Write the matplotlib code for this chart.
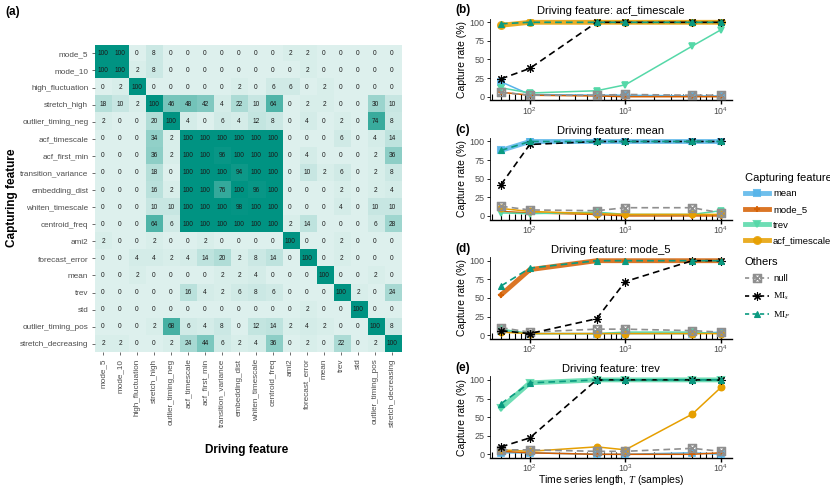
import numpy as np
import matplotlib
matplotlib.use("Agg")
import matplotlib.pyplot as plt
from matplotlib.colors import LinearSegmentedColormap
from matplotlib.lines import Line2D
from matplotlib.ticker import LogLocator, NullFormatter

plt.rcParams['font.family'] = ['Liberation Sans', 'DejaVu Sans']
plt.rcParams['mathtext.fontset'] = 'custom'
plt.rcParams['mathtext.rm'] = 'Liberation Serif'
plt.rcParams['mathtext.it'] = 'Liberation Serif:italic'

# ---- (a) heatmap data: rows = capturing feature, cols = driving feature ----
features = ['mode_5', 'mode_10', 'high_fluctuation', 'stretch_high', 'outlier_timing_neg',
            'acf_timescale', 'acf_first_min', 'transition_variance', 'embedding_dist',
            'whiten_timescale', 'centroid_freq', 'ami2', 'forecast_error', 'mean', 'trev',
            'std', 'outlier_timing_pos', 'stretch_decreasing']

capture_counts = [
    [100, 100, 0, 8, 0, 0, 0, 0, 0, 0, 0, 2, 2, 0, 0, 0, 0, 0],
    [100, 100, 2, 8, 0, 0, 0, 0, 0, 0, 0, 0, 2, 0, 0, 0, 0, 0],
    [0, 2, 100, 0, 0, 0, 0, 0, 2, 0, 6, 6, 0, 2, 0, 0, 0, 0],
    [18, 10, 2, 100, 46, 48, 42, 4, 22, 10, 64, 0, 2, 2, 0, 0, 30, 10],
    [2, 0, 0, 20, 100, 4, 0, 6, 4, 12, 8, 0, 4, 0, 2, 0, 74, 8],
    [0, 0, 0, 34, 2, 100, 100, 100, 100, 100, 100, 0, 0, 0, 6, 0, 4, 14],
    [0, 0, 0, 36, 2, 100, 100, 96, 100, 100, 100, 0, 4, 0, 0, 0, 2, 36],
    [0, 0, 0, 18, 0, 100, 100, 100, 94, 100, 100, 0, 10, 2, 6, 0, 2, 8],
    [0, 0, 0, 16, 2, 100, 100, 76, 100, 96, 100, 0, 0, 0, 2, 0, 2, 4],
    [0, 0, 0, 10, 10, 100, 100, 100, 98, 100, 100, 0, 0, 0, 4, 0, 10, 10],
    [0, 0, 0, 64, 6, 100, 100, 100, 100, 100, 100, 2, 14, 0, 0, 0, 6, 28],
    [2, 0, 0, 2, 0, 0, 2, 0, 0, 0, 0, 100, 0, 0, 2, 0, 0, 0],
    [0, 0, 4, 4, 2, 4, 14, 20, 2, 8, 14, 0, 100, 0, 2, 0, 0, 0],
    [0, 0, 2, 0, 0, 0, 0, 2, 2, 4, 0, 0, 0, 100, 0, 0, 2, 0],
    [0, 0, 0, 0, 0, 16, 4, 2, 6, 8, 6, 0, 0, 0, 100, 2, 0, 24],
    [0, 0, 0, 0, 0, 0, 0, 0, 0, 0, 0, 0, 2, 0, 0, 100, 0, 0],
    [0, 0, 0, 2, 68, 6, 4, 8, 0, 12, 14, 2, 4, 2, 0, 0, 100, 8],
    [2, 2, 0, 0, 2, 24, 44, 6, 2, 4, 36, 0, 2, 0, 22, 0, 2, 100],
]

# ---- (b)-(e) capture rate vs time series length ----
T_len = [50, 100, 500, 1000, 5000, 10000]

# (b) driving feature: acf_timescale
b_mean = [20, 3, 2, 2, 1, 1]
b_mode5 = [6, 2, 1, 0, 0, 0]
b_trev = [12, 5, 8, 16, 68, 90]
b_acf = [96, 100, 100, 100, 100, 100]
b_null = [6, 2, 2, 3, 2, 2]
b_mis = [24, 38, 100, 100, 100, 100]
b_mif = [98, 100, 100, 100, 100, 100]

# (c) driving feature: mean
c_mean = [88, 100, 100, 100, 100, 100]
c_mode5 = [6, 4, 2, 0, 0, 0]
c_trev = [4, 3, 5, 2, 2, 7]
c_acf = [10, 6, 3, 2, 2, 2]
c_null = [13, 8, 7, 11, 11, 4]
c_mis = [42, 96, 100, 100, 100, 100]
c_mif = [88, 100, 100, 100, 100, 100]

# (d) driving feature: mode_5
d_mean = [6, 2, 2, 2, 2, 4]
d_mode5 = [54, 88, 100, 100, 100, 100]
d_trev = [8, 2, 2, 4, 4, 2]
d_acf = [4, 2, 2, 2, 2, 2]
d_null = [10, 4, 8, 8, 6, 4]
d_mis = [6, 2, 22, 72, 100, 100]
d_mif = [66, 90, 100, 100, 100, 100]

# (e) driving feature: trev
e_mean = [2, 2, 0, 0, 2, 0]
e_mode5 = [4, 2, 0, 0, 0, 2]
e_trev = [62, 96, 100, 100, 100, 100]
e_acf = [6, 4, 10, 6, 54, 90]
e_null = [6, 6, 4, 4, 8, 4]
e_mis = [10, 22, 100, 100, 100, 100]
e_mif = [68, 96, 100, 100, 100, 100]

panels = [
    ('(b)', 'acf_timescale', {'mean': b_mean, 'mode_5': b_mode5, 'trev': b_trev,
                              'acf_timescale': b_acf, 'null': b_null, 'MIs': b_mis, 'MIF': b_mif}),
    ('(c)', 'mean', {'mean': c_mean, 'mode_5': c_mode5, 'trev': c_trev,
                     'acf_timescale': c_acf, 'null': c_null, 'MIs': c_mis, 'MIF': c_mif}),
    ('(d)', 'mode_5', {'mean': d_mean, 'mode_5': d_mode5, 'trev': d_trev,
                       'acf_timescale': d_acf, 'null': d_null, 'MIs': d_mis, 'MIF': d_mif}),
    ('(e)', 'trev', {'mean': e_mean, 'mode_5': e_mode5, 'trev': e_trev,
                     'acf_timescale': e_acf, 'null': e_null, 'MIs': e_mis, 'MIF': e_mif}),
]

# styles
cap_style = {
    'mean': dict(color='#56B4E9', marker='s'),
    'mode_5': dict(color='#D55E00', marker='+'),
    'trev': dict(color='#55D8A8', marker='v'),
    'acf_timescale': dict(color='#E69F00', marker='o'),
}
other_style = {
    'null': dict(color='#8f8f8f', marker=r'$\boxtimes$', ms=6),
    'MIs': dict(color='black', marker=(8, 2, 0), ms=6),
    'MIF': dict(color='#0A9A80', marker='^', ms=4.5),
}
other_labels = {'null': 'null', 'MIs': r'$\mathrm{MI}_s$', 'MIF': r'$\mathrm{MI}_F$'}

W, H = 830, 487
fig = plt.figure(figsize=(W / 100, H / 100), dpi=100)
grey = '#4d4d4d'

# ---------------- heatmap ----------------
cmap = LinearSegmentedColormap.from_list('teal', ['#ddf0ed', '#009382'])
M = np.array(capture_counts)
ax_h = fig.add_axes([94.5 / W, 1 - 352.3 / H, 306 / W, 307.5 / H])
ax_h.imshow(M, cmap=cmap, vmin=0, vmax=100, aspect='auto', interpolation='nearest')
for i in range(M.shape[0]):
    for j in range(M.shape[1]):
        ax_h.text(j, i, str(M[i, j]), ha='center', va='center', fontsize=4.7, color='#1a1a1a')
ax_h.set_xticks(range(len(features)))
ax_h.set_xticklabels(features, rotation=90, fontsize=5.9, color=grey)
ax_h.set_yticks(range(len(features)))
ax_h.set_yticklabels(features, fontsize=5.9, color=grey)
ax_h.tick_params(length=2, width=0.5, color='#333333', pad=2.5)
for s in ax_h.spines.values():
    s.set_visible(False)

fig.text(5 / W, 1 - 12 / H, '(a)', fontsize=8.5, fontweight='bold', va='center')
fig.text(247 / W, 1 - 450 / H, 'Driving feature', fontsize=8.5, fontweight='bold',
         ha='center', va='center')
fig.text(12 / W, 1 - 198 / H, 'Capturing feature', fontsize=8.5, fontweight='bold',
         ha='center', va='center', rotation=90)

# ---------------- line panels ----------------
for k, (tag, driver, series) in enumerate(panels):
    y100 = 22.3 + 119.2 * k
    y0 = y100 + 74.4
    top = y100 - 3.72
    bot = y0 + 3.72
    ax = fig.add_axes([490 / W, 1 - bot / H, 242 / W, (bot - top) / H])
    ax.set_xscale('log')
    ax.set_xlim(10 ** 1.584, 10 ** 4.115)
    ax.set_ylim(-5, 105)

    for name, st in cap_style.items():
        if name == driver:
            ax.plot(T_len, series[name], color=st['color'], lw=3.5, alpha=0.85,
                    marker=st['marker'], ms=5, mew=1.5, zorder=2)
        else:
            ax.plot(T_len, series[name], color=st['color'], lw=1.1,
                    marker=st['marker'], ms=4.5, mew=1.2, zorder=3)
    for name, st in other_style.items():
        ax.plot(T_len, series[name], color=st['color'], lw=1.2, ls=(0, (4, 2.5)),
                marker=st['marker'], ms=st['ms'], mew=0.8, zorder=4)

    ax.set_yticks([0, 25, 50, 75, 100])
    ax.xaxis.set_major_locator(LogLocator(base=10, numticks=10))
    ax.xaxis.set_minor_locator(LogLocator(base=10, subs=np.arange(2, 10), numticks=20))
    ax.xaxis.set_minor_formatter(NullFormatter())
    ax.tick_params(axis='x', which='major', direction='inout', length=6, width=1.0,
                   labelsize=6.3, labelcolor=grey, pad=0.3)
    ax.tick_params(axis='x', which='minor', direction='in', length=4, width=0.8)
    ax.tick_params(axis='y', length=2.5, width=0.6, labelsize=6.5, labelcolor=grey, pad=1.5)
    for s in ['top', 'right']:
        ax.spines[s].set_visible(False)
    ax.spines['left'].set_linewidth(0.6)
    ax.spines['bottom'].set_linewidth(1.0)
    ax.set_ylabel('Capture rate (%)', fontsize=7.5, labelpad=2)
    ax.set_title('Driving feature: ' + driver, fontsize=8, pad=3)
    fig.text(455 / W, 1 - (y100 - 12) / H, tag, fontsize=8.5, fontweight='bold', va='center')
    if k == 3:
        ax.set_xlabel(r'Time series length, $T$ (samples)', fontsize=7.5, labelpad=-1)

# ---------------- legends ----------------
cap_handles = [Line2D([], [], color=st['color'], lw=3.5, alpha=0.85, marker=st['marker'],
                      ms=5, mew=1.5) for st in cap_style.values()]
leg1 = fig.legend(cap_handles, list(cap_style.keys()), title='Capturing feature',
                  loc='upper left', bbox_to_anchor=(741 / W, 1 - 169 / H), frameon=False,
                  fontsize=6.8, title_fontsize=8, handlelength=2.6, labelspacing=0.7,
                  handletextpad=0.4, borderaxespad=0)
leg1._legend_box.align = 'left'

oth_handles = [Line2D([], [], color=st['color'], lw=1.2, ls=(0, (2.5, 2)), marker=st['marker'],
                      ms=st['ms'], mew=0.8) for st in other_style.values()]
leg2 = fig.legend(oth_handles, [other_labels[n] for n in other_style], title='Others',
                  loc='upper left', bbox_to_anchor=(741 / W, 1 - 253 / H), frameon=False,
                  fontsize=6.8, title_fontsize=8, handlelength=2.6, labelspacing=0.8,
                  handletextpad=0.4, borderaxespad=0)
leg2._legend_box.align = 'left'

fig.savefig('out.png', dpi=100)
